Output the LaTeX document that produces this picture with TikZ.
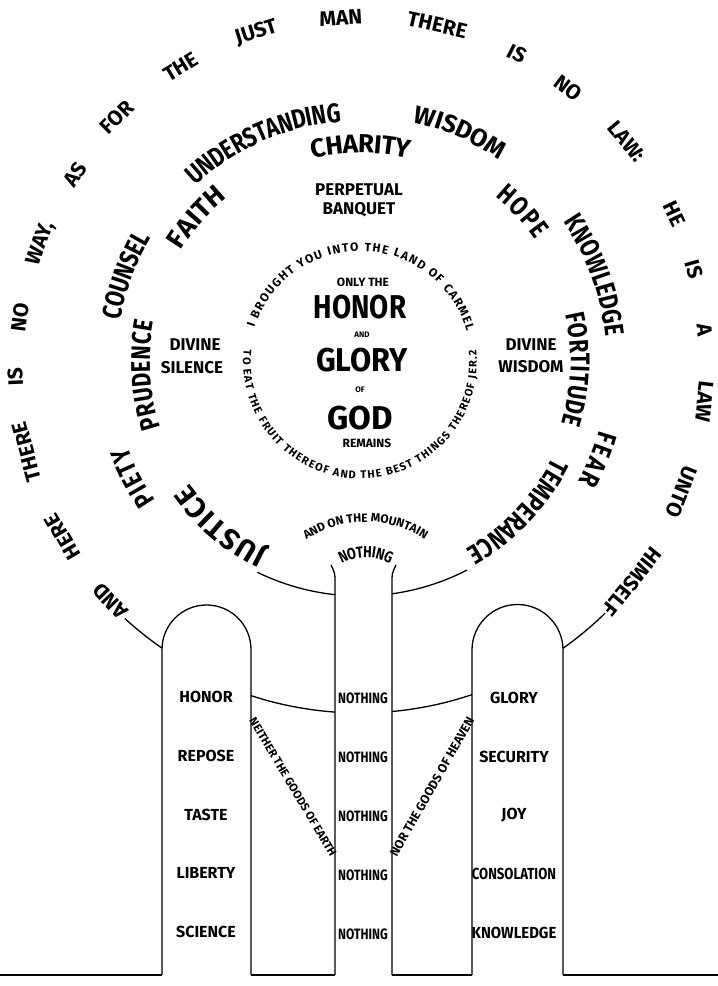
\documentclass[tikz,border=0pt]{standalone}
\usepackage{fontspec}
\setmainfont{Fira Sans}
\newfontfamily\hand{Fira Sans}[FakeStretch=0.8]
\usetikzlibrary{calc,decorations.text}

\newcommand\ringfont{\hand\bfseries\fontsize{27}{27}\selectfont}
\newcommand\wideringfont[1]{\bfseries\fontsize{#1}{#1}\selectfont}
% text set along an arc: centre, radius, from, to, font, raise, align, text
\newcommand\alongarc[8]{%
  \path[decorate,decoration={text along path,text align=#7,raise=#6,
      text={|#5|#8}}]
    ($(#1)+(#3:#2)$) arc[start angle=#3,end angle=#4,radius=#2];}

\begin{document}
\begin{tikzpicture}[x=1pt,y=1pt,line width=1.3pt,
  outerword/.style={font=\bfseries\fontsize{21}{21}\selectfont,inner sep=0pt},
  pillarword/.style={font=\bfseries\fontsize{16}{16}\selectfont,inner sep=0pt},
  nothingword/.style={font=\hand\bfseries\fontsize{15}{15}\selectfont,inner sep=0pt},
  bigword/.style={font=\bfseries\fontsize{33}{33}\selectfont,inner sep=0pt},
  midword/.style={font=\bfseries\fontsize{17}{17}\selectfont,inner sep=0pt},
  smallword/.style={font=\bfseries\fontsize{12}{12}\selectfont,inner sep=0pt},
  tinyword/.style={font=\bfseries\fontsize{8}{8}\selectfont,inner sep=0pt}]
  \useasboundingbox (0,0) rectangle (718,986);
  \coordinate (O) at (360,624);
  \coordinate (M1) at (366,356);
  \coordinate (M2) at (366,379);

  % ground and pillars
  \draw (0,11) -- (162,11) (251,11) -- (335,11) (392,11) -- (472,11) (563,11) -- (718,11);
  \draw (162,11) -- (162,336.5) arc[start angle=180,end angle=0,radius=44.5] -- (251,11);
  \draw (472,11) -- (472,336) arc[start angle=180,end angle=0,radius=45.5] -- (563,11);
  \draw (331,421) to[out=-65,in=90] (335,408) -- (335,11);
  \draw (396,421) to[out=-115,in=90] (392,408) -- (392,11);

  % arcs
  \draw ($(O)+(227.5:348)$) arc[start angle=227.5,end angle=235.3,radius=348];
  \draw ($(O)+(-45.7:351)$) arc[start angle=-45.7,end angle=-54.67,radius=351];
  \draw ($(O)+(251.9:351)$) arc[start angle=251.9,end angle=265.9,radius=351];
  \draw ($(O)+(-84.77:351)$) arc[start angle=-84.77,end angle=-71.39,radius=351];
  \draw ($(O)+(244:234)$) arc[start angle=244,end angle=263.87,radius=234];
  \draw ($(O)+(-82.14:234)$) arc[start angle=-82.14,end angle=-62.8,radius=234];

  % outer ring
  \foreach \ang/\rad/\wrd [count=\i] in {93.2/345/MAN, 77.1/346/THERE, 107.5/345/JUST,
      121.3/345/THE, 134.8/345/FOR, 146.6/341/AS, 159.6/340/{WAY,}, 172.5/343/NO,
      182.5/345/IS, 195.1/345/THERE, 210.4/345/HERE, 223.8/346/AND, 63/346/IS,
      52.8/344/NO, 39.6/346/LAW:, 25.2/348/HE, 15.5/347/IS, 5.3/346/A,
      -6.6/347/LAW, -22/347/UNTO, -38.9/350/HIMSELF}
    \node[outerword,rotate=\ang-90] (out\i) at ($(O)+(\ang:\rad)$) {\wrd};

  % gifts
  \alongarc{O}{250}{133}{94.5}{\ringfont}{-9pt}{fit to path}{UNDERSTANDING}
  \alongarc{O}{254}{77.5}{55.5}{\wideringfont{25}}{-8.5pt}{fit to path}{WISDOM}
  \alongarc{O}{252}{170}{150.5}{\ringfont}{-9pt}{fit to path}{COUNSEL}
  \alongarc{O}{256}{34.5}{6}{\ringfont}{-9pt}{fit to path}{KNOWLEDGE}
  \alongarc{O}{258}{-16}{-28.5}{\ringfont}{-9pt}{fit to path}{FEAR}
  \alongarc{O}{256}{214}{200}{\ringfont}{-9pt}{fit to path}{PIETY}
  % virtues
  \alongarc{O}{218}{103}{77}{\wideringfont{26}}{-9pt}{fit to path}{CHARITY}
  \alongarc{O}{220}{148}{129}{\wideringfont{27}}{-9pt}{fit to path}{FAITH}
  \alongarc{O}{223}{50.5}{35}{\ringfont}{-9pt}{fit to path}{HOPE}
  \alongarc{O}{219}{198}{169}{\ringfont}{-9pt}{fit to path}{PRUDENCE}
  \alongarc{O}{220}{13}{-17}{\ringfont}{-9pt}{fit to path}{FORTITUDE}
  \alongarc{O}{220}{244}{215.5}{\wideringfont{29}}{-10pt}{fit to path}{JUSTICE}
  \alongarc{O}{224}{-26.5}{-60.5}{\ringfont}{-9pt}{fit to path}{TEMPERANCE}

  % inner circle
  \alongarc{O}{115}{162}{16}{\wideringfont{12}}{-4pt}{fit to path}{I BROUGHT YOU INTO THE LAND OF CARMEL}
  \alongarc{O}{113}{174}{366}{\wideringfont{11}}{-3.8pt}{fit to path}{TO EAT THE FRUIT THEREOF AND THE BEST THINGS THEREOF JER.2}
  \alongarc{M1}{112}{123.5}{57}{\wideringfont{12}}{-4pt}{fit to path}{AND ON THE MOUNTAIN}
  \alongarc{M2}{55}{119}{61.5}{\hand\bfseries\fontsize{16}{16}\selectfont}{-5.5pt}{fit to path}{NOTHING}

  \node[smallword] (only) at (363,704) {ONLY THE};
  \node[bigword] (honor) at (360,679) {\scalebox{0.84}[1]{HONOR}};
  \node[tinyword] (and) at (362,651) {AND};
  \node[bigword] (glory) at (362,626) {\scalebox{0.93}[1]{GLORY}};
  \node[tinyword] (of) at (360,596) {OF};
  \node[bigword] (god) at (360,568) {GOD};
  \node[smallword] (remains) at (367,543) {REMAINS};

  \node[midword] (perpetual) at (359,796) {PERPETUAL};
  \node[midword] (banquet) at (359,776) {BANQUET};
  \node[midword] (divine1) at (195,641) {DIVINE};
  \node[midword] (silence) at (192,618) {SILENCE};
  \node[midword] (divine2) at (531,641) {DIVINE};
  \node[midword] (wisdom) at (531,619) {WISDOM};

  % pillars
  \foreach \wrd [count=\i] in {HONOR,REPOSE,TASTE,LIBERTY,SCIENCE}
    \node[pillarword] (earth\i) at (206,{289-58.75*(\i-1)}) {\wrd};
  \foreach \wrd [count=\i] in {GLORY,SECURITY,JOY,{\scalebox{0.82}[1]{CONSOLATION}},{\scalebox{0.93}[1]{KNOWLEDGE}}}
    \node[pillarword] (heaven\i) at (514,{288-58.75*(\i-1)}) {\wrd};
  \foreach \i in {1,...,5}
    \node[nothingword] (nothing\i) at (363,{288-59*(\i-1)}) {NOTHING};

  \node[font=\bfseries\fontsize{11.5}{11.5}\selectfont,rotate=-59.3] (neither) at (293,199) {NEITHER THE GOODS OF EARTH};
  \node[font=\bfseries\fontsize{12.5}{12.5}\selectfont,rotate=60.4] (nor) at (432,199) {NOR THE GOODS OF HEAVEN};
\end{tikzpicture}
\end{document}
